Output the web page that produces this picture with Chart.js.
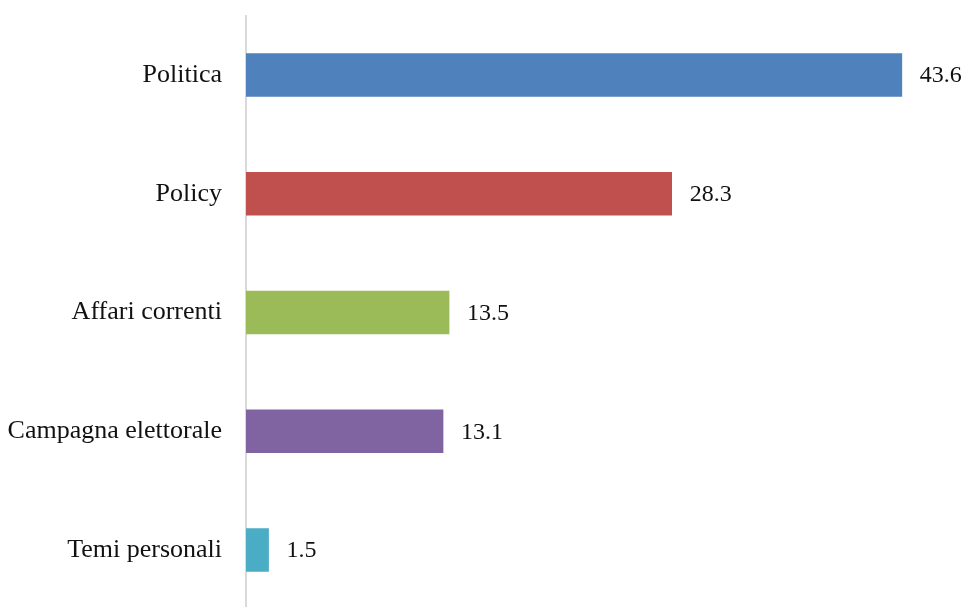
<!DOCTYPE html>
<html>
<head>
<meta charset="utf-8">
<script src="https://cdn.jsdelivr.net/npm/chart.js@4"></script>
<style>
  html, body { margin: 0; padding: 0; background: #fff; overflow: hidden; }
  #wrap { width: 968px; height: 657px; margin-top: -16px; position: relative; }
</style>
</head>
<body>
<div id="wrap"><canvas id="topicChart"></canvas></div>
<script>
let categories = ["Politica", "Policy", "Affari correnti", "Campagna elettorale", "Temi personali"];
let values = [43.6, 28.3, 13.5, 13.1, 1.5];
let valueLabels = ["43.6", "28.3", "13.5", "13.1", "1.5"];
let barColors = ["#4f81bd", "#c0504d", "#9bbb59", "#8064a2", "#4bacc6"];

const serif = "'Liberation Serif', 'Times New Roman', serif";

// writes the value just after the end of each bar
const valueText = {
  id: "valueText",
  afterDatasetsDraw(chart) {
    const ctx = chart.ctx;
    const meta = chart.getDatasetMeta(0);
    ctx.save();
    ctx.font = "24px " + serif;
    ctx.fillStyle = "#111";
    ctx.textAlign = "left";
    ctx.textBaseline = "middle";
    meta.data.forEach((bar, i) => {
      ctx.fillText(valueLabels[i], bar.x + 18, bar.y + 1);
    });
    ctx.restore();
  },
};

new Chart("topicChart", {
  type: "bar",
  data: {
    labels: categories,
    datasets: [
      {
        data: values,
        backgroundColor: barColors,
        barThickness: 43,
      },
    ],
  },
  options: {
    indexAxis: "y",
    responsive: true,
    maintainAspectRatio: false,
    animation: false,
    layout: { padding: { top: 15, right: 0, bottom: 0, left: 0 } },
    plugins: {
      legend: { display: false },
      title: { display: false },
      tooltip: { enabled: false },
    },
    scales: {
      x: {
        display: false,
        min: 0,
        max: 48,
      },
      y: {
        grid: { display: false },
        border: { display: true, color: "#d9d9d9", width: 2 },
        ticks: {
          color: "#111",
          padding: 16,
          font: { family: serif, size: 26 },
        },
        afterFit(scale) {
          scale.width = 246;
        },
      },
    },
  },
  plugins: [valueText],
});
</script>
</body>
</html>
